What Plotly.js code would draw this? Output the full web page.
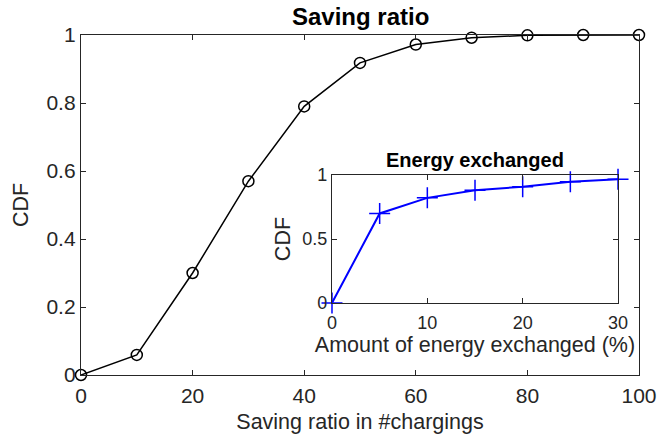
<!DOCTYPE html>
<html><head><meta charset="utf-8">
<script src="https://cdn.plot.ly/plotly-3.0.1.min.js"></script>
<style>html,body{margin:0;padding:0;background:#fff}#c{width:668px;height:436px}</style>
</head><body><div id="c"></div>
<script>
var savingX = [0, 10, 20, 30, 40, 50, 60, 70, 80, 90, 100];
var savingCDF = [0, 0.059, 0.30, 0.57, 0.79, 0.918, 0.972, 0.992, 0.999, 1.0, 1.0];
var energyX = [0, 5, 10, 15, 20, 25, 30];
var energyCDF = [0, 0.70, 0.822, 0.882, 0.908, 0.947, 0.968];
var mainXTicks = [0, 20, 40, 60, 80, 100];
var mainYTicks = [0, 0.2, 0.4, 0.6, 0.8, 1];
var mainYTickText = ['0', '0.2', '0.4', '0.6', '0.8', '1'];
var insetXTicks = [0, 10, 20, 30];
var insetYTicks = [0, 0.5, 1];
var insetYTickText = ['0', '0.5', '1'];

var axCol = '#262626';
var fam = 'Liberation Sans, Arial, sans-serif';
var fnt = {family: fam, size: 21, color: axCol};
var fntT = {family: fam, size: 21.5, color: axCol};
var fntS = {family: fam, size: 18, color: axCol};

var traces = [
  {x: savingX, y: savingCDF, xaxis: 'x', yaxis: 'y', mode: 'lines+markers',
   line: {color: '#000', width: 1.5},
   marker: {symbol: 'circle-open', size: 11, color: '#000', line: {width: 1.5, color: '#000'}},
   cliponaxis: false, showlegend: false},
  {x: energyX, y: energyCDF, xaxis: 'x2', yaxis: 'y2', mode: 'lines+markers',
   line: {color: '#0000ff', width: 2},
   marker: {symbol: 'cross-thin-open', size: 15, color: '#0000ff', line: {width: 1.5, color: '#0000ff'}},
   cliponaxis: false, showlegend: false}
];

function axis(extra) {
  var a = {showgrid: false, zeroline: false, showline: true, linecolor: axCol, linewidth: 1.2,
    mirror: 'ticks', ticks: 'inside', ticklen: 5, tickcolor: axCol, tickwidth: 1, fixedrange: true};
  for (var k in extra) a[k] = extra[k];
  return a;
}

var layout = {
  width: 668, height: 436,
  margin: {l: 81, r: 29, t: 35, b: 61},
  paper_bgcolor: '#fff', plot_bgcolor: '#fff',
  font: fnt,
  xaxis: axis({domain: [0, 1], range: [0, 100], tickvals: mainXTicks, tickfont: fnt, anchor: 'y', ticklabelstandoff: 2,
    title: {text: 'Saving ratio in #chargings', font: fntT, standoff: 7}}),
  yaxis: axis({domain: [0, 1], range: [0, 1], tickvals: mainYTicks, ticktext: mainYTickText, tickfont: fnt, anchor: 'x',
    title: {text: 'CDF', font: fntT, standoff: 11}}),
  xaxis2: axis({domain: [0.4498, 0.9624], range: [0, 30], tickvals: insetXTicks, tickfont: fntS, anchor: 'y2', ticklabelstandoff: 3,
    title: {text: 'Amount of energy exchanged (%)', font: fntT, standoff: 0}}),
  yaxis2: axis({domain: [0.2118, 0.588], range: [0, 1], tickvals: insetYTicks, ticktext: insetYTickText, tickfont: fntS, anchor: 'x2',
    title: {text: 'CDF', font: fntT, standoff: 5}}),
  annotations: [
    {text: '<b>Saving ratio</b>', xref: 'paper', yref: 'paper', x: 0.5, y: 1, yanchor: 'bottom', yshift: 3,
     showarrow: false, font: {family: fam, size: 24, color: '#000'}},
    {text: '<b>Energy exchanged</b>', xref: 'x2 domain', yref: 'y2 domain', x: 0.5, y: 1, yanchor: 'bottom', yshift: 2,
     showarrow: false, font: {family: fam, size: 20, color: '#000'}}
  ]
};

Plotly.newPlot('c', traces, layout, {displayModeBar: false, staticPlot: true});
</script>
</body></html>
